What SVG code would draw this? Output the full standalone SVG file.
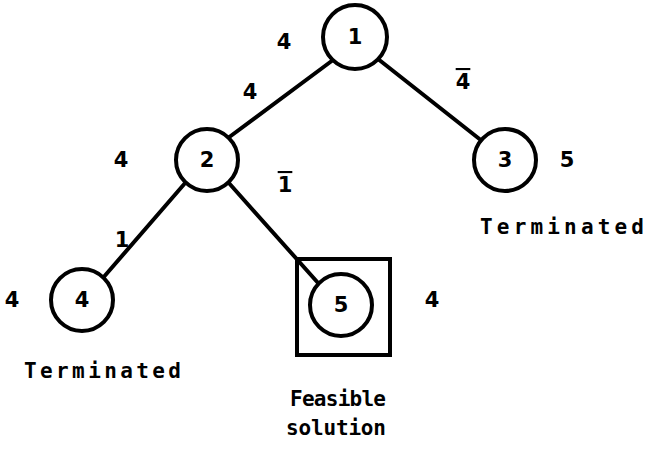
<svg xmlns="http://www.w3.org/2000/svg" width="648" height="453" viewBox="0 0 648 453">
<style>
.node{fill:#fff;stroke:#000;stroke-width:4}
.edge{stroke:#000;stroke-width:4;fill:none;stroke-linecap:round}
.num{font-family:"DejaVu Sans","Liberation Sans",sans-serif;font-weight:bold;font-size:21px;fill:#000;text-anchor:middle}
.lbl{font-family:"DejaVu Sans Mono","Liberation Mono",monospace;font-weight:bold;font-size:21px;fill:#000}
.ov{text-decoration:overline}
</style>
<rect width="648" height="453" fill="#fff"/>
<g id="connectors">
<line class="edge" x1="333" y1="60" x2="228" y2="138"/>
<line class="edge" x1="378" y1="59" x2="482" y2="141"/>
<line class="edge" x1="186" y1="182" x2="102" y2="279"/>
<line class="edge" x1="228" y1="182" x2="319" y2="284"/>
</g>
<g id="node1">
<circle class="node" cx="355" cy="37" r="32"/>
<text class="num" x="355" y="44">1</text>
<text class="num" x="284" y="49">4</text>
</g>
<g id="node2">
<circle class="node" cx="207" cy="160" r="31"/>
<text class="num" x="207" y="167">2</text>
<text class="num" x="121" y="167">4</text>
<text class="num" x="250" y="99">4</text>
</g>
<g id="node3">
<circle class="node" cx="505" cy="160" r="31"/>
<text class="num" x="505" y="167">3</text>
<text class="num" x="567" y="167">5</text>
<text class="num ov" x="463" y="89">4</text>
<text class="lbl" x="480" y="234" textLength="164" lengthAdjust="spacing">Terminated</text>
</g>
<g id="node4">
<circle class="node" cx="82" cy="300" r="31"/>
<text class="num" x="82" y="307">4</text>
<text class="num" x="12" y="307">4</text>
<text class="num" x="122" y="247">1</text>
<text class="lbl" x="24" y="378" textLength="157" lengthAdjust="spacing">Terminated</text>
</g>
<g id="node5">
<rect x="297" y="259" width="93" height="96" fill="none" stroke="#000" stroke-width="4"/>
<circle class="node" cx="341" cy="305" r="31"/>
<text class="num" x="341" y="312">5</text>
<text class="num" x="432" y="307">4</text>
<text class="num ov" x="285" y="192">1</text>
<text class="lbl" x="290" y="406" textLength="96" lengthAdjust="spacing">Feasible</text>
<text class="lbl" x="286" y="435" textLength="100" lengthAdjust="spacing">solution</text>
</g>
</svg>
